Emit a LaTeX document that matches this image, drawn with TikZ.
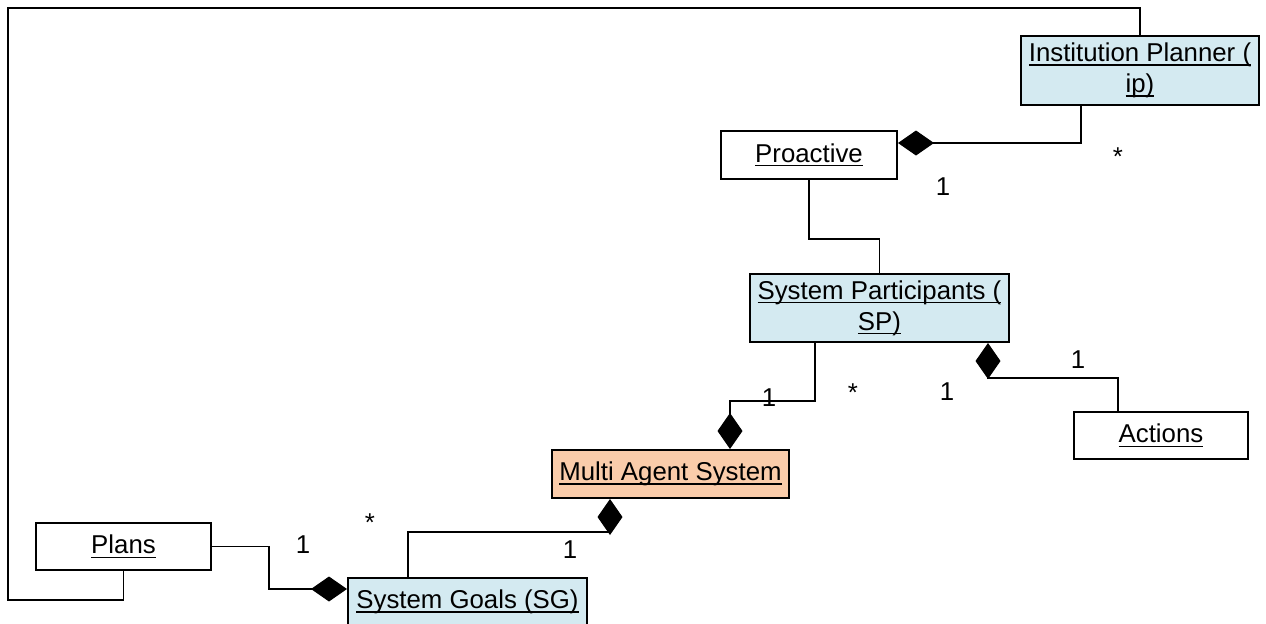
\documentclass[tikz,border=0pt]{standalone}
\usepackage{fontspec}
\setmainfont{Liberation Sans}
\usetikzlibrary{arrows.meta}

\definecolor{clsblue}{RGB}{212,234,241}
\definecolor{clspeach}{RGB}{250,204,170}

% class names are underlined at a fixed depth below the baseline
\newcommand\ulin[1]{\leavevmode\setbox0=\hbox{#1}\rlap{\rule[-2.1pt]{\wd0}{0.7pt}}\box0}
\newcommand\umlfont{\fontsize{12.9}{15.5}\selectfont}

\tikzset{
  cls/.style={draw=black, line width=1pt, inner sep=0pt, align=center, font=\umlfont},
  bluecls/.style={cls, fill=clsblue},
  peachcls/.style={cls, fill=clspeach},
  whitecls/.style={cls, fill=white},
  wire/.style={line width=0.6pt, draw=black},
  comp/.style={wire, -{Diamond[length=18pt,width=12.5pt]}},
  pcomp/.style={wire, {Diamond[length=18pt,width=12.5pt]}-},
  mult/.style={font=\umlfont, inner sep=0pt},
}

\begin{document}
\begin{tikzpicture}[x=0.5pt, y=-0.5pt]
\useasboundingbox (0,0) rectangle (1266,623);

% classes
\node[bluecls, minimum width=119pt, minimum height=34.5pt] (ip) at (1140,70.5)
  {\ulin{Institution Planner (}\\\ulin{ip)}};
\node[whitecls, minimum width=88pt, minimum height=24pt] (pro) at (809,155) {\ulin{Proactive}};
\node[bluecls, minimum width=129.5pt, minimum height=34pt] (sp) at (879.5,308)
  {\ulin{System Participants (}\\\ulin{SP)}};
\node[whitecls, minimum width=87pt, minimum height=23.5pt] (act) at (1161,435.5) {\ulin{Actions}};
\node[peachcls, minimum width=118.5pt, minimum height=24pt] (mas) at (670.5,474) {\ulin{Multi Agent System}};
\node[whitecls, minimum width=87.5pt, minimum height=23.5pt] (plans) at (123.5,546.5) {\ulin{Plans}};
\node[bluecls, minimum width=119.5pt, minimum height=24pt] (sg) at (467.5,602) {\ulin{System Goals (SG)}};

% associations
\draw[wire] (ip.north) -- (1140,8) -- (8,8) -- (8,600) -| (plans.south);
\draw[comp] (ip.south -| 1081,0) |- (pro.east |- 0,143);
\draw[wire] (pro.south) -- (809,239) -| (sp.north);
\draw[comp] (sp.south -| 815,0) |- (730,401) -- (mas.north -| 730,0);
\draw[pcomp] (sp.south -| 988,0) -- (988,378) -| (act.north -| 1118,0);
\draw[comp] (sg.north -| 408,0) |- (610,532) -- (mas.south -| 610,0);
\draw[comp] (plans.east) -| (269,589) -- (sg.west |- 0,589);

% multiplicities
\node[mult] (m1) at (1118,157) {*};
\node[mult] (m2) at (943,187) {1};
\node[mult] (m3) at (853,393) {*};
\node[mult] (m4) at (947,392) {1};
\node[mult] (m5) at (769,398) {1};
\node[mult] (m6) at (1078,360) {1};
\node[mult] (m7) at (570,550) {1};
\node[mult] (m8) at (370,523) {*};
\node[mult] (m9) at (303,545) {1};
\end{tikzpicture}
\end{document}
